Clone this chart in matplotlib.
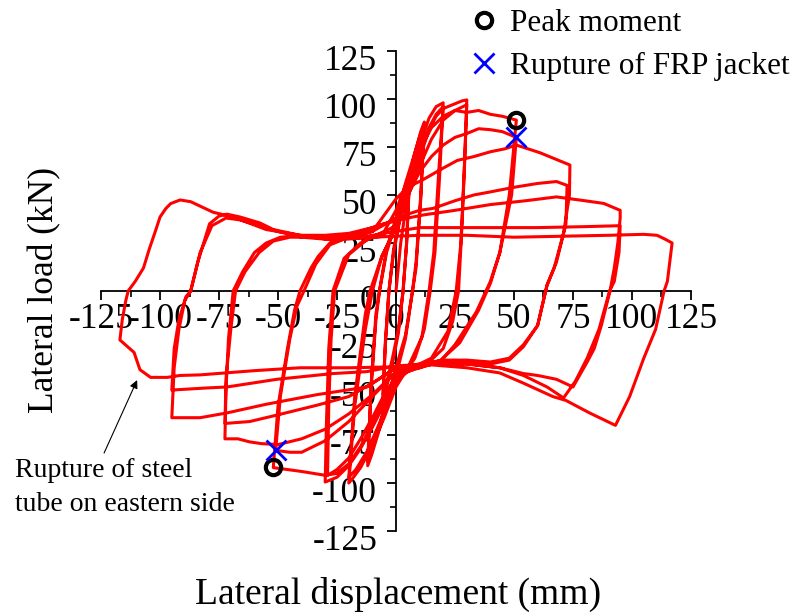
import numpy as np
import matplotlib
matplotlib.use('Agg')
import matplotlib.pyplot as plt
import matplotlib.transforms as mtransforms
from matplotlib.lines import Line2D
from matplotlib.ticker import MultipleLocator

plt.rcParams['font.family'] = ['Liberation Serif', 'DejaVu Serif']
plt.rcParams['axes.unicode_minus'] = False

# load history: (displacement mm, load kN)
cycle_5 = [(0, 0), (2, 25), (4, 42), (5.5, 52), (4.5, 25), (3, 0), (1, -22), (-1.5, -38), (-4, -50),
           (-5.5, -55), (-4.5, -28), (-3, 0), (-1, 20), (1.5, 36), (4, 48), (5.5, 54), (4.5, 25), (3, 0),
           (1, -20), (-1.5, -35), (-4, -48), (-5.5, -54), (-4.5, -26), (-3, 0)]

cycle_10 = [(-1, 22), (2, 40), (5, 56), (8, 72), (10.5, 83), (12, 88), (10.5, 50), (8.5, 15), (7, 0),
            (4, -25), (0, -44), (-4, -60), (-8, -76), (-10.5, -86), (-12, -91), (-10.5, -50), (-8.5, -15),
            (-7, 0), (-4, 22), (0, 38), (4, 56), (8, 72), (10.5, 82), (12, 87), (10.5, 48), (8.5, 12),
            (7, 0), (4, -23), (0, -40), (-4, -57), (-8, -74), (-10.5, -85), (-12, -89), (-10.5, -48),
            (-8.5, -12), (-7, 0)]

cycle_20 = [(-4, 20), (0, 36), (5, 58), (10, 76), (14, 90), (17, 96), (20, 98), (18.5, 60), (16.5, 20),
            (14.5, 0), (12, -20), (8, -35), (3, -44), (0, -50), (-5, -66), (-10, -80), (-15, -92),
            (-18, -97), (-20, -100), (-17.5, -60), (-13, -20), (-10, 0), (-6, 18), (-2, 28), (0, 34),
            (5, 54), (10, 71), (14, 85), (17, 92), (20, 96), (18, 60), (16, 20), (14, 0), (11, -24),
            (5, -40), (0, -48), (-6, -66), (-12, -83), (-17, -93), (-20, -97), (-17.5, -55), (-13, -12),
            (-11, 0), (-6, 18)]

cycle_30 = [(0, 33), (5, 52), (10, 69), (14, 84), (17, 91), (20, 95), (25, 97.5), (28, 99), (30, 99.5),
            (29.2, 70), (28, 35), (26.5, 0), (24, -16), (20, -30), (14, -37), (5, -42), (0, -47),
            (-5, -59), (-10, -71), (-15, -82), (-20, -91), (-25, -97), (-30, -99.5), (-29.5, -70),
            (-28.5, -30), (-26.7, 0), (-22, 17), (-15, 25), (-8, 29), (0, 34), (5, 49), (10, 65),
            (15, 79), (20, 89), (25, 94), (30, 97), (28.8, 60), (27.5, 25), (25.5, 0), (22, -21),
            (15, -35), (5, -41), (0, -45), (-5, -54), (-10, -66), (-15, -77), (-20, -87), (-25, -93),
            (-29, -96), (-28.5, -60), (-27.5, -25), (-26, 0), (-20, 19), (-12, 27), (-5, 31)]

cycle_50 = [(0, 42), (5, 58), (10, 73), (15, 85), (20, 91), (25, 94), (30, 93), (35, 94), (40, 92),
            (45, 91), (51, 89), (48, 50), (44, 20), (40, 5), (34, -11), (25, -28), (18.6, -37), (10, -40),
            (0, -44), (-5, -56), (-10, -69), (-15, -81), (-20, -90), (-25, -95), (-30, -96), (-35, -95),
            (-40, -94), (-46, -93), (-52, -92), (-50, -60), (-46, -30), (-43, -10), (-40.7, 0),
            (-36, 12), (-33, 18), (-28, 25), (-20, 28), (-10, 31), (0, 38), (5, 50), (10, 62), (15, 70),
            (20, 76), (25, 80), (30, 82), (35, 84.5), (40, 84), (45, 83), (51, 80), (49, 50), (44, 20),
            (40, 4), (35, -10), (27, -27), (19, -36), (10, -40), (0, -42), (-10, -55), (-20, -68),
            (-30, -78), (-40, -84), (-45, -84), (-51, -83), (-49, -55), (-45, -25), (-42, -8), (-39, 0),
            (-34, 14), (-28, 24), (-20, 28), (-10, 31)]

cycle_72 = [(0, 48), (5, 54), (11.5, 58), (20, 64), (26, 68), (33, 70), (40, 72.5), (46, 74), (51, 76),
            (56, 74), (61, 72), (67, 69), (73.7, 65.6), (73.5, 50), (71, 30), (67, 12), (64, 3),
            (60, -18), (54, -29), (48, -36), (40, -38), (30, -37), (20, -37), (10, -39), (0, -42),
            (-10, -54), (-20, -64), (-30, -72), (-40, -77), (-50, -80), (-57, -79.5), (-62, -78.6),
            (-67, -77), (-72.5, -77), (-72, -50), (-71, -25), (-69, 0), (-65, 10), (-60, 20), (-55, 25),
            (-49, 28), (-40, 29), (-30, 29), (-20, 30), (-10, 33), (0, 37), (5, 40), (10, 42),
            (15.7, 43), (25, 47), (33, 50), (40, 51.6), (50, 54), (60, 56), (68, 57), (72.5, 55),
            (72, 35), (68, 15), (64, 3), (60, -18), (54, -28), (48, -35), (40, -37), (30, -36),
            (20, -36), (10, -38), (0, -40), (-10, -48), (-20, -55), (-33.5, -59.5), (-50, -64.5),
            (-62, -68), (-72.5, -69), (-72, -45), (-70, -20), (-68, 0), (-64, 10), (-58, 20), (-52, 26),
            (-45, 28), (-35, 28), (-25, 28), (-15, 31), (-5, 35)]

cycle_95 = [(5, 38), (11.6, 39.6), (25, 42), (40, 45), (55, 47), (68, 49), (74, 48), (80, 47),
            (88, 45.6), (95, 42), (95, 38), (94, 25), (92.5, 12), (90.7, 0), (87, -18), (84, -30),
            (81, -37), (75, -50), (68, -46), (60, -44), (54, -43), (44, -40), (30, -38), (15, -38),
            (0, -40), (-12.3, -50), (-33.5, -54), (-55, -59), (-71.6, -63.5), (-83, -66), (-95, -66),
            (-94, -40), (-92, -20), (-89.5, -5), (-87, 0), (-84, 15), (-79, 35), (-75, 39),
            (-71.6, 40), (-66, 38.5), (-57.6, 35.4), (-52, 32), (-40.7, 29), (-26.7, 27), (-15, 28),
            (-5, 30), (0, 31), (10, 33), (25, 33), (40, 33), (60, 33), (80, 33.5), (95, 34),
            (94.5, 20), (92.5, 5), (90.5, 0), (86, -20), (81, -35), (76, -47), (71, -55.7), (64, -50),
            (54, -44), (44, -40), (30, -38), (15, -38), (0, -39), (-12.3, -42), (-26.7, -43),
            (-50.5, -46), (-71.6, -50), (-80, -50.5), (-95, -51.6), (-94, -30), (-92, -15), (-89, -3),
            (-87, 0), (-83, 20), (-78, 34), (-72, 38), (-66, 37), (-58, 34), (-50, 31), (-40, 28),
            (-30, 27), (-20, 27.5), (-10, 28), (0, 28.5)]

cycle_115 = [(10, 29), (30, 29), (50, 28), (70, 28.5), (90, 29), (105, 29.5), (110.6, 29), (114, 27),
             (117, 25), (116, 15), (115, 5), (113.6, 0), (110, -20), (105, -35), (99, -55), (93, -70),
             (82, -63.5), (72, -57), (66.5, -55), (54, -48), (44, -42.7), (30, -40), (15, -38.5),
             (0, -39.5), (-20, -40), (-40.7, -40), (-60, -41.5), (-83, -43.7), (-91.5, -44), (-97, -45),
             (-104, -45), (-108.5, -41), (-111, -32), (-117, -25.5), (-116, -15), (-114.5, -5),
             (-113.5, 0), (-110.5, 5), (-107, 12), (-104.5, 22), (-102, 31), (-100, 38.5),
             (-97.5, 43), (-95.5, 45.5), (-91.5, 47.4), (-87, 46.5), (-77.5, 41), (-69, 38.5),
             (-55, 32), (-40.7, 29), (-26.7, 26.5), (-15, 27.5), (-5, 28.5)]

peak_x = [51, -52]
peak_y = [89, -91.7]
rupture_x = [51, -51]
rupture_y = [80, -83]

ticks = [-125, -100, -75, -50, -25, 0, 25, 50, 75, 100, 125]

history = np.array(cycle_5 + cycle_10 + cycle_20 + cycle_30 + cycle_50 + cycle_72 + cycle_95 + cycle_115)

fig = plt.figure(figsize=(8.03, 6.14), dpi=100)
ax = fig.add_axes([0.1258, 0.1352, 0.7347, 0.7818])

ax.plot(history[:, 0], history[:, 1], color='red', lw=2.2, zorder=3, solid_joinstyle='round')
ax.plot(peak_x, peak_y, ls='none', marker='o', mfc='none', mec='black', mew=3, ms=11, zorder=5)
ax.plot(rupture_x, rupture_y, ls='none', marker='x', color='blue', mew=2, ms=14, zorder=6)

ax.set_xlim(-125, 125)
ax.set_ylim(-125, 125)
ax.spines['left'].set_position(('data', 0))
ax.spines['bottom'].set_position(('data', 0))
ax.spines['top'].set_visible(False)
ax.spines['right'].set_visible(False)
for s in ('left', 'bottom'):
    ax.spines[s].set_linewidth(1.3)

ax.set_xticks(ticks)
ax.set_yticks(ticks)
ax.set_xticklabels([str(t) for t in ticks])
ax.set_yticklabels([str(t) for t in ticks])
ax.xaxis.set_minor_locator(MultipleLocator(12.5))
ax.yaxis.set_minor_locator(MultipleLocator(12.5))
ax.tick_params(which='major', direction='out', length=6.5, width=1.3, labelsize=25.5)
ax.tick_params(axis='x', which='major', pad=2.5)
ax.tick_params(axis='y', which='major', pad=7)
ax.tick_params(which='minor', direction='out', length=4, width=1.2)

shift = mtransforms.ScaledTranslation(0, -0.07, fig.dpi_scale_trans)
for lbl in ax.get_yticklabels():
    lbl.set_transform(lbl.get_transform() + shift)

ax.set_xlabel('Lateral displacement (mm)', fontsize=27)
ax.xaxis.label.set_va('center')
ax.xaxis.set_label_coords(0.503, -0.133)
ax.set_ylabel('Lateral load (kN)', fontsize=25.5)
ax.yaxis.label.set_va('center')
ax.yaxis.set_label_coords(-0.095, 0.502)

ax.annotate('', xy=(-109.7, -46.4), xytext=(-123.7, -84.4),
            arrowprops=dict(arrowstyle='-|>', color='black', lw=0.8, mutation_scale=12,
                            shrinkA=0, shrinkB=0),
            annotation_clip=False)
ax.text(-161.4, -102.4, 'Rupture of steel\ntube on eastern side', fontsize=20,
        ha='left', va='center', linespacing=1.45, clip_on=False)

handles = [Line2D([], [], ls='none', marker='o', mfc='none', mec='black', mew=3, ms=11),
           Line2D([], [], ls='none', marker='x', color='blue', mew=2, ms=14)]
ax.legend(handles, ['Peak moment', 'Rupture of FRP jacket'], loc='upper left',
          bbox_to_anchor=(0.587, 0.985), bbox_transform=fig.transFigure, frameon=False,
          fontsize=22.5, handlelength=0.8, handletextpad=0.43, labelspacing=0.45,
          borderpad=0, borderaxespad=0)

fig.savefig('out.png', dpi=100)
